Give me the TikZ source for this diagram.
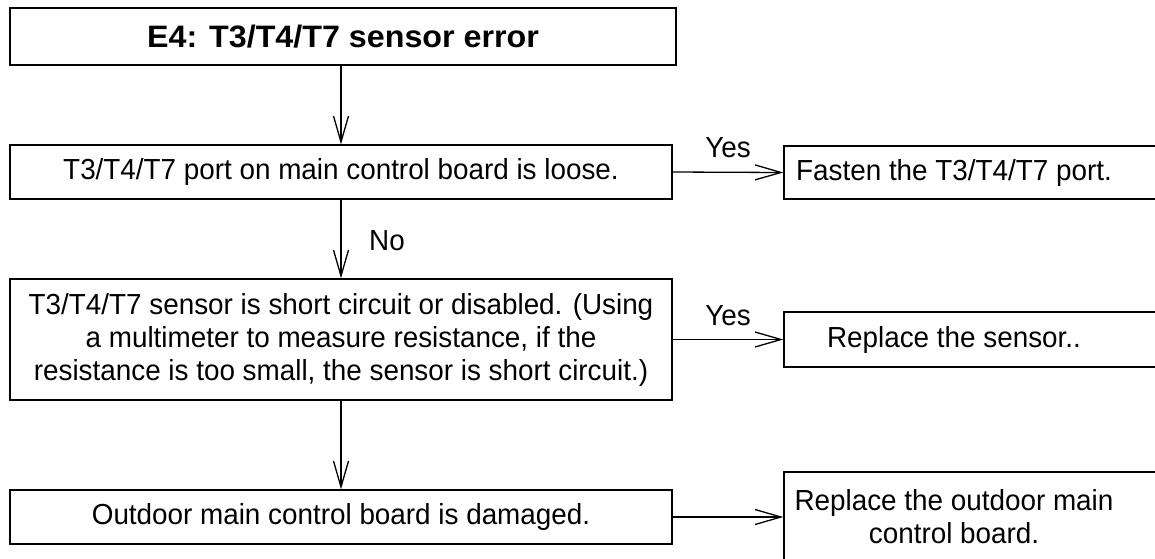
\documentclass[tikz,border=0pt]{standalone}
\usepackage{fontspec}
\setmainfont[FakeStretch=0.96]{Liberation Sans}
\newfontfamily\titlefont[FakeStretch=1.04]{Liberation Sans}
\usetikzlibrary{arrows.meta}
\begin{document}
\begin{tikzpicture}[x=1pt,y=-1pt,
  font=\fontsize{29}{33}\selectfont,
  box/.style={draw,line width=1.3pt,rectangle,inner sep=0pt,align=center},
  arr/.style={line width=1.3pt,-{Straight Barb[length=26pt,width=15pt,line width=1.3pt]}},
  lbl/.style={inner sep=0pt}]
\useasboundingbox (0,0) rectangle (1155,558);
\clip (0,0) rectangle (1155,558);
\node[box,line width=2.2pt,minimum width=666pt,minimum height=57pt,font=\titlefont\fontsize{31}{35}\selectfont\bfseries] (b1) at (343,36.5) {E4: T3/T4/T7 sensor error};
\node[box,minimum width=662pt,minimum height=54pt] (b2) at (341,172) {T3/T4/T7 port on main control board is loose.};
\node[box,minimum width=662pt,minimum height=121pt] (b3) at (341,339.5) {T3/T4/T7 sensor is short circuit or disabled. (Using\\ a multimeter to measure resistance, if the\\ resistance is too small, the sensor is short circuit.)};
\node[box,minimum width=662pt,minimum height=54pt] (b4) at (341,517) {Outdoor main control board is damaged.};
\node[box,minimum width=376pt,minimum height=53pt] (r2box) at (972,172.5) {};
\node[lbl] (r2) at (954,172.5) {Fasten the T3/T4/T7 port.};
\node[box,minimum width=376pt,minimum height=55pt] (r3box) at (972,339.5) {};
\node[lbl] (r3) at (954,339.5) {Replace the sensor..};
\node[box,minimum width=376pt,minimum height=98pt] (r4box) at (972,521) {};
\node[lbl,align=center] (r4) at (954,517) {Replace the outdoor main\\control board.};
\draw[arr] (b2.north |- b1.south) -- (b2.north);
\draw[arr] (b2.south) -- (b3.north);
\draw[arr] (b3.south) -- (b4.north);
\draw[arr] (b2.east) -- (r2box.west);
\draw[arr] (b3.east) -- (r3box.west);
\draw[arr] (b4.east) -- (b4.east -| r4box.west);
\node[lbl] (yes1) at (728,148) {Yes};
\node[lbl] (yes2) at (728,316) {Yes};
\node[lbl] (no) at (387,241) {No};
\end{tikzpicture}
\end{document}
